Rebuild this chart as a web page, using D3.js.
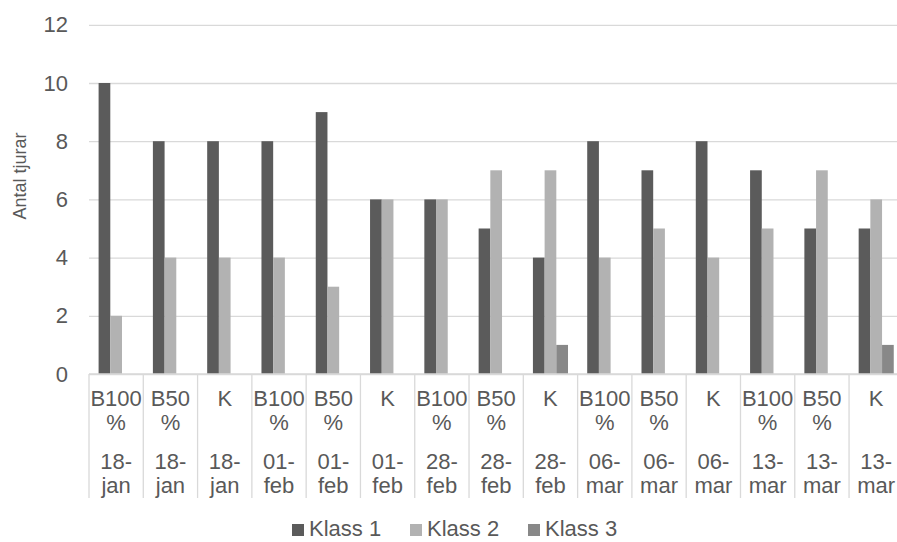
<!DOCTYPE html>
<html>
<head>
<meta charset="utf-8">
<script src="https://cdn.jsdelivr.net/npm/d3@7"></script>
<style>
  html, body { margin: 0; padding: 0; background: #fff; }
  text { font-family: "Liberation Sans", Arial, sans-serif; fill: #595959; }
</style>
</head>
<body>
<svg id="chart" width="897" height="542"></svg>
<script>
const treatments = ["B100%","B50%","K","B100%","B50%","K","B100%","B50%","K","B100%","B50%","K","B100%","B50%","K"];
const dates = ["18-jan","18-jan","18-jan","01-feb","01-feb","01-feb","28-feb","28-feb","28-feb","06-mar","06-mar","06-mar","13-mar","13-mar","13-mar"];
const seriesNames = ["Klass 1","Klass 2","Klass 3"];
const klass1 = [10,8,8,8,9,6,6,5,4,8,7,8,7,5,5];
const klass2 = [2,4,4,4,3,6,6,7,7,4,5,4,5,7,6];
const klass3 = [0,0,0,0,0,0,0,0,1,0,0,0,0,0,1];
const yTicks = [0,2,4,6,8,10,12];
const colors = ["#5b5b5b","#b2b2b2","#888888"];

(function () {
const series = [klass1, klass2, klass3];
const svg = d3.select("#chart");
const font = 22;

const plotLeft = 89, groupW = 54.29, plotTop = 24.8, plotBottom = 374;
const x0 = d3.scaleBand().domain(d3.range(treatments.length)).range([plotLeft, plotLeft + groupW * treatments.length]).padding(0);
const x1 = d3.scaleBand().domain(d3.range(series.length)).range([9.6, groupW - 9.6]).padding(0);
const y = d3.scaleLinear().domain([0, 12]).range([plotBottom, plotTop]);

// gridlines + y axis
const yAxis = d3.axisLeft(y).tickValues(yTicks).tickSize(-(897 - plotLeft)).tickPadding(21).tickFormat(d3.format("d"));
const gy = svg.append("g").attr("transform", `translate(${plotLeft},0)`).call(yAxis);
gy.select(".domain").remove();
gy.selectAll(".tick line").attr("stroke", "#d9d9d9").attr("stroke-width", 1.3);
gy.selectAll(".tick text").attr("font-size", font).attr("fill", "#595959").style("font-family", "Liberation Sans, Arial, sans-serif");

// bars
const groups = svg.append("g").selectAll("g").data(d3.range(treatments.length)).join("g")
  .attr("transform", i => `translate(${x0(i)},0)`);
groups.selectAll("rect").data(i => series.map((s, k) => ({k, v: s[i]}))).join("rect")
  .attr("x", d => x1(d.k))
  .attr("width", x1.bandwidth())
  .attr("y", d => y(d.v))
  .attr("height", d => y(0) - y(d.v))
  .attr("fill", d => colors[d.k]);

// category axis line
svg.append("line").attr("x1", plotLeft).attr("x2", 897).attr("y1", plotBottom).attr("y2", plotBottom)
  .attr("stroke", "#d9d9d9").attr("stroke-width", 1.3);

// separators
const seps = d3.range(treatments.length + 1).map(i => i < treatments.length ? x0(i) : x0(i - 1) + groupW);
svg.append("g").selectAll("line").data(seps).join("line")
  .attr("x1", d => d).attr("x2", d => d).attr("y1", plotBottom).attr("y2", 498)
  .attr("stroke", "#d9d9d9").attr("stroke-width", 1.3);

// labels
const catG = svg.append("g");
treatments.forEach((t, i) => {
  const cx = x0(i) + groupW / 2;
  const m = t.match(/^(.*\d)(%)$/);
  const lines1 = m ? [m[1], m[2]] : [t];
  const dm = dates[i].match(/^(.*-)(.*)$/);
  const lines2 = [dm[1], dm[2]];
  lines1.forEach((l, j) => catG.append("text").attr("x", cx).attr("y", 406 + j * 24)
    .attr("text-anchor", "middle").attr("font-size", font).text(l));
  lines2.forEach((l, j) => catG.append("text").attr("x", cx).attr("y", 469 + j * 24)
    .attr("text-anchor", "middle").attr("font-size", font).text(l));
});

// y title
svg.append("text").attr("transform", "translate(26,176) rotate(-90)")
  .attr("text-anchor", "middle").attr("font-size", 18).text("Antal tjurar");

// legend
const legX = [292, 410, 528];
const leg = svg.append("g").selectAll("g").data(seriesNames).join("g")
  .attr("transform", (d, i) => `translate(${legX[i]},0)`);
leg.append("rect").attr("x", 0).attr("y", 524).attr("width", 12).attr("height", 12).attr("fill", (d, i) => colors[i]);
leg.append("text").attr("x", 17).attr("y", 536).attr("font-size", font).text(d => d);
})();
</script>
</body>
</html>
